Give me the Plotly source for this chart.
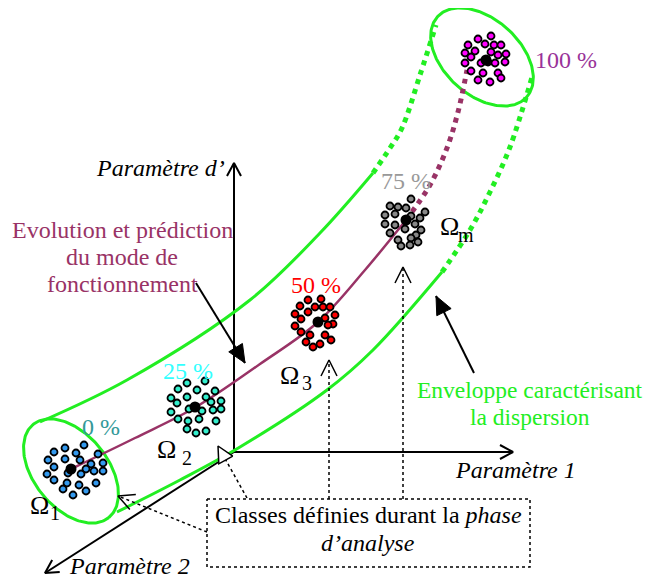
import numpy as np
import plotly.graph_objects as go

# Whole diagram is laid out in picture pixels: x to the right, y downward
W, H = 651, 581
PAGE_MARGIN = 8  # default body margin of the html page
SERIF = "Liberation Serif, Times New Roman, serif"
GREEN = "#22ee22"
PURPLE = "#993366"

# Sample points of each class
omega1_x = [65, 84, 54, 76, 98, 48, 65, 80, 91, 103, 54, 86, 94, 103, 47, 68, 81, 54, 67, 96, 79, 63, 86, 73]
omega1_y = [448, 445, 452, 453, 454, 460, 459, 460, 464, 463, 467, 469, 471, 471, 474, 473, 474, 480, 483, 483, 485, 489, 491, 495]
omega2_x = [187, 205, 178, 197, 215, 171, 187, 206, 177, 211, 221, 171, 189, 202, 213, 221, 178, 199, 188, 216, 187, 196, 206]
omega2_y = [383, 381, 389, 390, 391, 398, 397, 397, 403, 402, 401, 412, 409, 411, 410, 409, 419, 419, 421, 421, 429, 433, 431]
omega3_x = [308, 321, 300, 315, 323, 330, 295, 308, 335, 301, 325, 333, 295, 328, 301, 325, 310, 331, 306, 320, 313]
omega3_y = [300, 299, 306, 307, 307, 307, 314, 312, 315, 319, 318, 324, 326, 325, 332, 335, 335, 340, 342, 344, 347]
omega4_x = [411, 390, 398, 406, 385, 395, 411, 420, 425, 385, 395, 415, 390, 405, 421, 416, 398, 411, 418, 401, 410]
omega4_y = [199, 206, 207, 208, 215, 214, 216, 218, 212, 224, 225, 224, 233, 229, 230, 235, 240, 238, 242, 246, 245]
omega5_x = [491, 478, 468, 485, 494, 501, 465, 475, 491, 498, 506, 471, 465, 481, 488, 495, 505, 471, 483, 498, 478, 490, 501]
omega5_y = [36, 39, 45, 44, 45, 45, 53, 51, 52, 55, 54, 57, 63, 63, 62, 63, 62, 71, 73, 73, 80, 82, 78]

class_dots = [(omega1_x, omega1_y), (omega2_x, omega2_y), (omega3_x, omega3_y),
              (omega4_x, omega4_y), (omega5_x, omega5_y)]
class_colors = ["#3399ee", "#33eecc", "#ff0000", "#888888", "#ff00ff"]
centre_x = [71, 195, 318, 406, 486]
centre_y = [469, 407, 322, 220, 60]

# Percent labels
pct_labels = ["0 %", "25 %", "50 %", "75 %", "100 %"]
pct_x = [101, 188, 316, 406, 566]
pct_y = [427, 371, 285, 181, 60]
pct_colors = ["#339999", "#33ffff", "#ff0000", "#999999", "#993399"]

# Omega labels
omega_sub = ["1", "2", "3", "m"]
omega_x = [39, 166, 289, 449]
omega_y = [505, 449, 375, 226]
sub_x = [55, 187, 307, 466]
sub_y = [513, 458, 383, 235]

# Evolution curve and envelope
trend_x = [71, 135, 196, 260, 318, 365, 406]
trend_y = [469, 438, 407, 364, 322, 270, 220]
trend_dot_x = [406, 430, 447, 458, 467]
trend_dot_y = [220, 185, 148, 112, 70]
env_top_x = [40, 127, 250, 320, 373]
env_top_y = [422, 380, 300, 233, 173]
env_top_dot_x = [373, 390, 402, 420, 436]
env_top_dot_y = [173, 148, 128, 75, 25]
env_bot_x = [117, 180, 240, 327, 373, 442]
env_bot_y = [512, 480, 447, 390, 350, 272]
env_bot_dot_x = [442, 470, 490, 510, 532]
env_bot_dot_y = [272, 230, 192, 147, 77]

# Ellipses: centre x, centre y, semi-major, semi-minor, tilt in degrees
ellipse_start = (71, 471, 60, 37, 51)
ellipse_end = (482, 57, 60, 38, 42)

origin = (234, 452)
axis_ends = [(234, 163), (513, 452), (45, 573)]


def ellipse(cx, cy, a, b, deg):
    t = np.linspace(0, 2 * np.pi, 200)
    p = np.radians(deg)
    x = cx + a * np.cos(t) * np.cos(p) - b * np.sin(t) * np.sin(p)
    y = cy + a * np.cos(t) * np.sin(p) + b * np.sin(t) * np.cos(p)
    return x, y


def head(x0, y0, x1, y1, length, half):
    d = np.array([x1 - x0, y1 - y0], dtype=float)
    d /= np.hypot(*d)
    n = np.array([-d[1], d[0]])
    base = np.array([x1, y1]) - d * length
    a = base + n * half
    b = base - n * half
    return [a[0], x1, b[0]], [a[1], y1, b[1]]


fig = go.Figure()


def line(x, y, color, width, dash="solid", shape="linear", fill=None, fillcolor=None):
    fig.add_trace(go.Scatter(x=x, y=y, mode="lines", line=dict(color=color, width=width, dash=dash, shape=shape),
                             fill=fill, fillcolor=fillcolor, hoverinfo="skip"))


# axes
for ex, ey in axis_ends:
    line([origin[0], ex], [origin[1], ey], "black", 2)
    hx, hy = head(origin[0], origin[1], ex, ey, 13, 7)
    line(hx, hy, "black", 2)

# envelope
for e in (ellipse_start, ellipse_end):
    ex, ey = ellipse(*e)
    line(ex, ey, GREEN, 3)
line(env_top_x, env_top_y, GREEN, 3, shape="spline")
line(env_bot_x, env_bot_y, GREEN, 3, shape="spline")
line(env_top_dot_x, env_top_dot_y, GREEN, 5, dash="dot", shape="spline")
line(env_bot_dot_x, env_bot_dot_y, GREEN, 5, dash="dot", shape="spline")

# evolution curve
line(trend_x, trend_y, PURPLE, 2.5, shape="spline")
line(trend_dot_x, trend_dot_y, PURPLE, 5, dash="dot", shape="spline")

# classes
for (dx, dy), c in zip(class_dots, class_colors):
    fig.add_trace(go.Scatter(x=dx, y=dy, mode="markers", hoverinfo="skip",
                             marker=dict(size=7, color=c, line=dict(color="black", width=1.8))))
fig.add_trace(go.Scatter(x=centre_x, y=centre_y, mode="markers", hoverinfo="skip",
                         marker=dict(size=11, color="black")))

# dotted box and dotted pointers
box = (207, 499, 530, 567)
line([box[0], box[2], box[2], box[0], box[0]], [box[1], box[1], box[3], box[3], box[1]], "black", 1.5, dash="dot")
pointers = [((207, 532), (118, 496), "open"), ((247, 498), (218, 446), "triangle"),
            ((329, 499), (329, 360), "open"), ((403, 499), (403, 267), "open")]
for (x0, y0), (x1, y1), kind in pointers:
    line([x0, x1], [y0, y1], "black", 1.5, dash="dot")
    hx, hy = head(x0, y0, x1, y1, 16, 8)
    if kind == "triangle":
        line(hx + [hx[0]], hy + [hy[0]], "black", 1.5, fill="toself", fillcolor="white")
    else:
        line(hx, hy, "black", 1.5)

# solid black arrows
for (x0, y0), (x1, y1) in [((196, 283), (245, 363)), ((474, 373), (436, 296))]:
    line([x0, x1], [y0, y1], "black", 2)
    hx, hy = head(x0, y0, x1, y1, 18, 8)
    line(hx + [hx[0]], hy + [hy[0]], "black", 1, fill="toself", fillcolor="black")


def text(s, x, y, color="black", size=24, xanchor="center"):
    fig.add_annotation(x=x, y=y, text=s, showarrow=False, xanchor=xanchor, yanchor="middle",
                       font=dict(family=SERIF, size=size, color=color))


for s, x, y, c in zip(pct_labels, pct_x, pct_y, pct_colors):
    text(s, x, y, c)
for s, x, y, sx, sy in zip(omega_sub, omega_x, omega_y, sub_x, sub_y):
    text("Ω", x, y, size=26)
    text(s, sx, sy, size=20)

text("<i>Paramètre d’</i>", 227, 168, xanchor="right")
text("<i>Paramètre 1</i>", 453, 470, xanchor="left")
text("<i>Paramètre 2</i>", 67, 566, xanchor="left")
for s, y in zip(["Evolution et prédiction", "du mode de", "fonctionnement"], [230, 257, 284]):
    text(s, 122, y, PURPLE)
for s, y in zip(["Enveloppe caractérisant", "la dispersion"], [390, 417]):
    text(s, 530, y, GREEN, size=23.5)
text("Classes définies durant la <i>phase</i>", 368, 515)
text("<i>d’analyse</i>", 368, 543)

# the page puts the figure 8px in from the corner, so the figure covers
# picture pixels PAGE_MARGIN..W and PAGE_MARGIN..H
fig.update_layout(width=W - PAGE_MARGIN, height=H - PAGE_MARGIN, margin=dict(l=0, r=0, t=0, b=0),
                  showlegend=False, plot_bgcolor="white", paper_bgcolor="white",
                  xaxis=dict(range=[PAGE_MARGIN, W], visible=False),
                  yaxis=dict(range=[H, PAGE_MARGIN], visible=False))
fig.write_html("out.html")
